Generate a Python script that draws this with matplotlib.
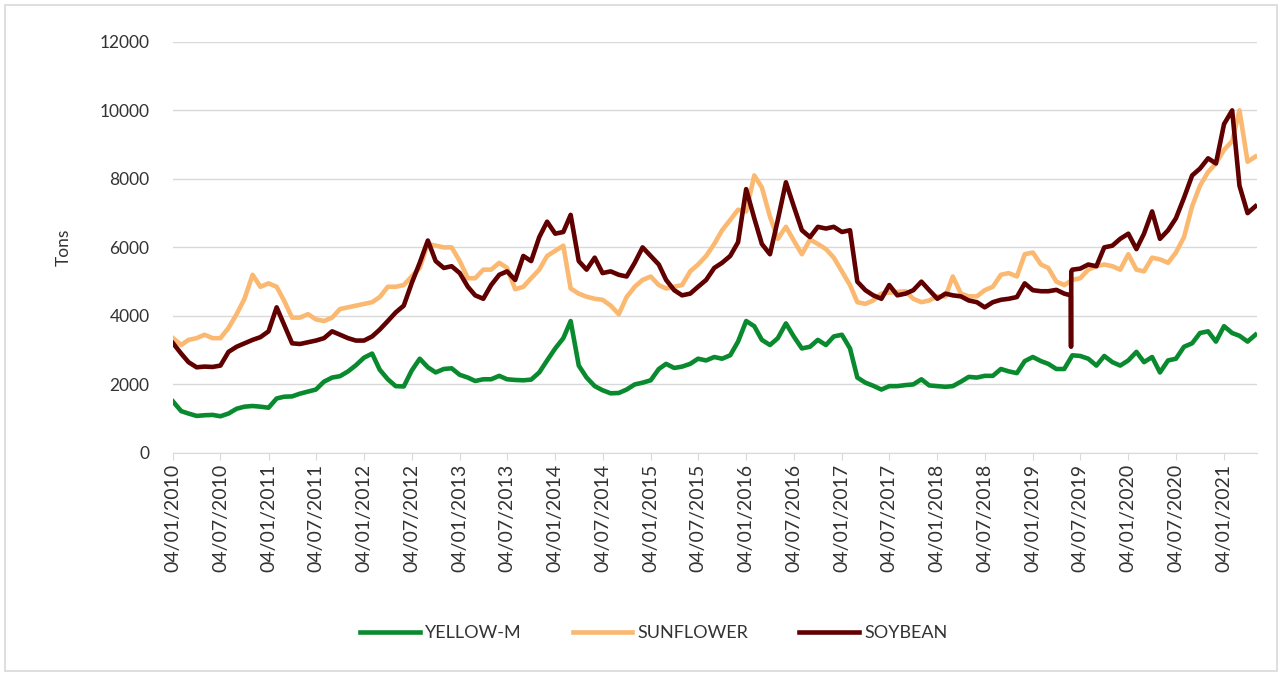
import pandas as pd
import matplotlib
matplotlib.use("Agg")
import matplotlib.pyplot as plt
import matplotlib.dates as mdates
from matplotlib.patches import Rectangle

# monthly readings, first point 04/01/2010, one value per month
start = "2010-01-04"

yellow_m = [
    1500, 1220, 1150, 1080, 1100, 1110, 1070, 1150, 1290, 1350,
    1370, 1350, 1320, 1590, 1640, 1650, 1730, 1790, 1850, 2080,
    2200, 2240, 2380, 2560, 2780, 2900, 2430, 2150, 1950, 1940,
    2400, 2750, 2500, 2350, 2450, 2470, 2280, 2200, 2100, 2150,
    2150, 2250, 2150, 2130, 2120, 2140, 2350, 2700, 3050, 3350,
    3850, 2550, 2200, 1950, 1830, 1740, 1750, 1850, 2000, 2050,
    2120, 2450, 2600, 2480, 2520, 2600, 2750, 2700, 2800, 2750,
    2850, 3250, 3850, 3700, 3300, 3150, 3350, 3780, 3400, 3050,
    3100, 3300, 3150, 3400, 3450, 3050, 2200, 2050, 1960, 1850,
    1950, 1950, 1980, 2000, 2150, 1970, 1950, 1930, 1950, 2080,
    2220, 2200, 2250, 2250, 2450, 2380, 2330, 2680, 2800, 2680,
    2600, 2450, 2450, 2850, 2830, 2750, 2550, 2830, 2650, 2550,
    2700, 2950, 2650, 2800, 2350, 2700, 2750, 3100, 3200, 3500,
    3550, 3250, 3700, 3500, 3420, 3250, 3450,
]

sunflower = [
    3350, 3150, 3300, 3350, 3450, 3350, 3350, 3650, 4050, 4500,
    5200, 4850, 4950, 4850, 4450, 3950, 3950, 4050, 3900, 3850,
    3950, 4200, 4250, 4300, 4350, 4400, 4550, 4850, 4850, 4900,
    5150, 5400, 6100, 6050, 6000, 6000, 5600, 5100, 5100, 5350,
    5350, 5550, 5400, 4780, 4850, 5100, 5350, 5750, 5900, 6050,
    4800, 4650, 4560, 4500, 4470, 4300, 4050, 4550, 4850, 5050,
    5150, 4900, 4800, 4850, 4900, 5300, 5500, 5750, 6100, 6500,
    6800, 7100, 7050, 8100, 7750, 6900, 6250, 6600, 6200, 5800,
    6230, 6100, 5950, 5700, 5300, 4900, 4400, 4350, 4450, 4650,
    4680, 4700, 4720, 4500, 4400, 4450, 4570, 4570, 5150, 4650,
    4570, 4570, 4750, 4850, 5200, 5250, 5150, 5800, 5850, 5500,
    5400, 5000, 4900, 5050, 5100, 5350, 5450, 5500, 5450, 5350,
    5800, 5350, 5300, 5700, 5650, 5550, 5850, 6300, 7200, 7800,
    8200, 8450, 8850, 9100, 10000, 8500, 8650,
]

soybean = [
    3200, 2900, 2650, 2500, 2520, 2510, 2550, 2950, 3100, 3200,
    3300, 3380, 3550, 4250, 3750, 3200, 3180, 3230, 3280, 3350,
    3550, 3450, 3350, 3280, 3280, 3400, 3600, 3850, 4100, 4300,
    4950, 5550, 6200, 5600, 5400, 5450, 5250, 4850, 4600, 4500,
    4900, 5200, 5300, 5050, 5750, 5600, 6300, 6750, 6400, 6450,
    6950, 5600, 5350, 5700, 5250, 5300, 5200, 5150, 5550, 6000,
    5750, 5500, 5050, 4750, 4600, 4650, 4850, 5050, 5400, 5550,
    5750, 6150, 7700, 6850, 6100, 5800, 6800, 7900, 7200, 6500,
    6300, 6600, 6550, 6600, 6450, 6500, 5000, 4750, 4600, 4500,
    4900, 4600, 4650, 4750, 5000, 4750, 4500, 4650, 4600, 4570,
    4450, 4400, 4250, 4400, 4470, 4500, 4550, 4950, 4750, 4720,
    4720, 4760, 4650, 5350, 5380, 5500, 5450, 6000, 6050, 6250,
    6400, 5950, 6400, 7050, 6250, 6500, 6850, 7450, 8100, 8300,
    8600, 8450, 9600, 10000, 7800, 7000, 7200,
]

# one-day drop in the soybean series
soy_dip_dates = ["2019-05-29", "2019-05-30", "2019-05-31"]
soy_dip_vals = [4600, 3100, 5300]

months = [pd.Timestamp(start) + pd.DateOffset(months=i) for i in range(len(yellow_m))]

yellow_s = pd.Series(yellow_m, index=months)
sun_s = pd.Series(sunflower, index=months)
soy_s = pd.concat([pd.Series(soybean, index=months),
                   pd.Series(soy_dip_vals, index=pd.to_datetime(soy_dip_dates))]).sort_index()

tick_dates = [pd.Timestamp(f"{y}-{m:02d}-04") for y in range(2010, 2022) for m in (1, 7)]
tick_dates = [d for d in tick_dates if d <= pd.Timestamp("2021-01-04")]

plt.rcParams['font.family'] = ['Lato', 'DejaVu Sans']
text_col = '#333333'

fig = plt.figure(figsize=(12.82, 6.75), dpi=100)
ax = fig.add_axes([0.135, 0.329, 0.8455, 0.609])

ax.plot(yellow_s.index, yellow_s.values, color='#0A8A2E', lw=3.3, label='YELLOW-M')
ax.plot(sun_s.index, sun_s.values, color='#FBB870', lw=3.3, label='SUNFLOWER')
ax.plot(soy_s.index, soy_s.values, color='#600000', lw=3.3, label='SOYBEAN')

ax.set_ylim(0, 12000)
ax.set_yticks(range(0, 12001, 2000))
ax.set_xlim(pd.Timestamp("2010-01-04"), pd.Timestamp("2021-05-10"))
ax.set_xticks(tick_dates)
ax.xaxis.set_major_formatter(mdates.DateFormatter('%d/%m/%Y'))
plt.setp(ax.get_xticklabels(), rotation=90)

ax.grid(axis='y', color='#d9d9d9', lw=1)
ax.set_axisbelow(True)
for s in ['top', 'right', 'left']:
    ax.spines[s].set_visible(False)
ax.spines['bottom'].set_color('#d9d9d9')
ax.tick_params(axis='x', colors='#d9d9d9', length=5, labelcolor=text_col, labelsize=14, pad=3)
ax.tick_params(axis='y', length=0, labelcolor=text_col, labelsize=12.5, pad=17)
ax.set_ylabel('Tons', fontsize=12.5, color=text_col, labelpad=20)

fig.legend(loc='center', bbox_to_anchor=(0.51, 0.062), ncol=3, frameon=False,
           handlelength=3.3, columnspacing=2.8, handletextpad=0.3, fontsize=13,
           labelcolor=text_col)

fig.patches.append(Rectangle((0.004, 0.006), 0.992, 0.986, transform=fig.transFigure,
                             fill=False, edgecolor='#d9d9d9', lw=1.2))

fig.savefig('out.png', dpi=100)
